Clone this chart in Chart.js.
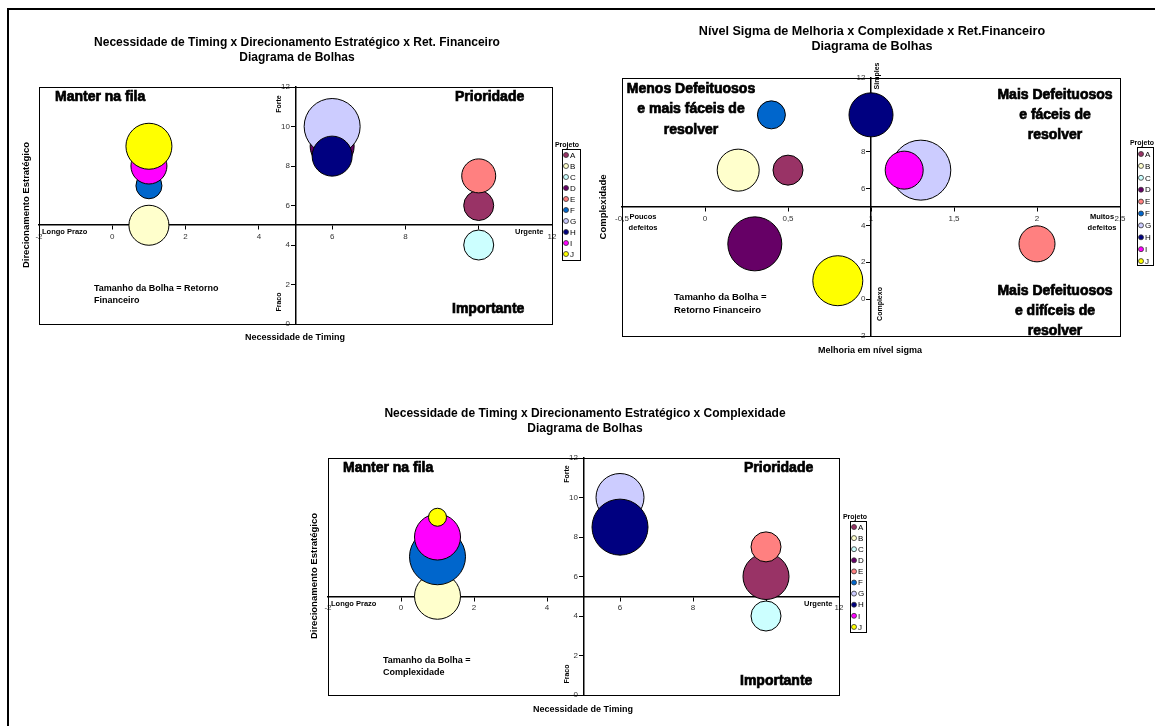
<!DOCTYPE html>
<html>
<head>
<meta charset="utf-8">
<script src="https://cdn.jsdelivr.net/npm/chart.js@4.4.1/dist/chart.umd.min.js"></script>
<style>
  body { margin: 0; background: #fff; }
  #page { position: relative; width: 1155px; height: 726px; overflow: hidden; font-family: "Liberation Sans", Arial, sans-serif; }
  #page canvas { position: absolute; left: 0; top: 0; }
  .linha-topo { position: absolute; left: 7px; top: 8px; width: 1148px; height: 2px; background: #000; }
  .linha-esq { position: absolute; left: 7px; top: 8px; width: 2px; height: 718px; background: #000; }
</style>
</head>
<body>
<div id="page">
  <div class="linha-topo"></div>
  <div class="linha-esq"></div>
  <canvas id="graf1" width="1155" height="726"></canvas>
  <canvas id="graf2" width="1155" height="726"></canvas>
  <canvas id="graf3" width="1155" height="726"></canvas>
</div>
<script>
const projetos = ['A', 'B', 'C', 'D', 'E', 'F', 'G', 'H', 'I', 'J'];
const cores = ['#993366', '#FFFFCC', '#CCFFFF', '#660066', '#FF8080', '#0066CC', '#CCCCFF', '#000080', '#FF00FF', '#FFFF00'];

// necessidade de timing (x) e direcionamento estrategico (y) - graficos 1 e 3
const timing = [10, 1, 10, 6, 10, 1, 6, 6, 1, 1];
const direcionamento = [6, 5, 4, 9, 7.5, 7, 10, 8.5, 8, 9];
// tamanho da bolha = retorno financeiro (grafico 1)
const retorno1 = [15, 20, 15, 22, 17, 13, 28, 20, 18, 23];

// nivel sigma (x) x complexidade (y) - grafico 2 (C sem valor)
const sigma = [0.5, 0.2, null, 0.3, 2, 0.4, 1.3, 1, 1.2, 0.8];
const complexidade = [7, 7, null, 3, 3, 10, 7, 10, 7, 1];
const retorno2 = [15, 21, null, 27, 18, 14, 30, 22, 19, 25];

// tamanho da bolha = complexidade (grafico 3)
const complexidade3 = [23, 23, 15, 20, 15, 28, 24, 28, 23, 9];

const ticksTiming = ['-2', '0', '2', '4', '6', '8', '10', '12'];
const ticksDirec = ['0', '2', '4', '6', '8', '10', '12'];
const ticksSigma = ['-0,5', '0', '0,5', '1', '1,5', '2', '2,5'];
const ticksComplex = ['-2', '0', '2', '4', '6', '8', '10', '12'];

const FONTE = '"Liberation Sans", Arial, sans-serif';

function montaDatasets(xs, ys, rs) {
    return projetos.map((p, i) => ({
        label: p,
        data: xs[i] === null ? [] : [{ x: xs[i], y: ys[i], r: rs[i] }],
        backgroundColor: cores[i],
        borderColor: '#000',
        borderWidth: 1,
        order: projetos.length - i   // A desenhado primeiro, J por cima
    }));
}

const extras = {
    id: 'extras',
    beforeDatasetsDraw(chart) {
        const { ctx, chartArea: a } = chart;
        ctx.save();
        ctx.strokeStyle = '#000';
        ctx.lineWidth = 1;
        ctx.strokeRect(a.left + 0.5, a.top + 0.5, a.width, a.height);
        ctx.restore();
    },
    afterDraw(chart, args, opts) {
        const ctx = chart.ctx;
        ctx.save();
        ctx.fillStyle = '#000';
        ctx.strokeStyle = '#000';
        ctx.textBaseline = 'middle';
        opts.textos.forEach(t => {
            ctx.save();
            ctx.font = t.font + ' ' + FONTE;
            ctx.textAlign = t.align || 'center';
            ctx.translate(t.x, t.y);
            if (t.rot) ctx.rotate(-Math.PI / 2);
            t.text.split('\n').forEach((l, i) => {
                ctx.fillText(l, 0, i * (t.lh || 12));
                if (t.forte) {
                    ctx.lineWidth = 0.7;
                    ctx.strokeText(l, 0, i * (t.lh || 12));
                }
            });
            ctx.restore();
        });

        // legenda "Projeto"
        const L = opts.legenda;
        ctx.font = 'bold 7px ' + FONTE;
        ctx.textAlign = 'center';
        ctx.fillText('Projeto', L.tx, L.y - 4);
        ctx.lineWidth = 1;
        ctx.strokeRect(L.x + 0.5, L.y + 0.5, L.w, L.h);
        ctx.font = '8px ' + FONTE;
        ctx.textAlign = 'left';
        chart.data.datasets.forEach((ds, i) => {
            const yy = L.first + i * L.step;
            ctx.beginPath();
            ctx.arc(L.x + 4, yy, 2.5, 0, Math.PI * 2);
            ctx.fillStyle = ds.backgroundColor;
            ctx.fill();
            ctx.strokeStyle = '#333';
            ctx.lineWidth = 0.8;
            ctx.stroke();
            ctx.fillStyle = '#000';
            ctx.fillText(ds.label, L.x + 8, yy + 0.5);
        });
        ctx.restore();
    }
};

function eixo(min, max, step, cruza, labels, vertical, extra) {
    return Object.assign({
        type: 'linear',
        min: min,
        max: max,
        position: cruza,
        ticks: {
            stepSize: step,
            color: '#333',
            font: { size: 8, family: FONTE },
            // eixo vertical cruzado: rotulo encostado na linha, afasta com espaco
            callback: (v, i) => vertical ? labels[i] + '\u2002\u2009' : labels[i]
        },
        grid: { drawOnChartArea: false, drawTicks: true, tickLength: 4, color: '#000' },
        border: { color: '#000', width: 1.5 }
    }, extra || {});
}

function criaGrafico(id, datasets, area, escalas, textos, legenda) {
    new Chart(document.getElementById(id), {
        type: 'bubble',
        data: { datasets: datasets },
        options: {
            responsive: false,
            animation: false,
            events: [],
            layout: {
                padding: { left: area.left, top: area.top, right: 1155 - area.right, bottom: 726 - area.bottom }
            },
            scales: escalas,
            plugins: {
                legend: { display: false },
                tooltip: { enabled: false },
                extras: { textos: textos, legenda: legenda }
            }
        },
        plugins: [extras]
    });
}

// Grafico 1
criaGrafico('graf1', montaDatasets(timing, direcionamento, retorno1),
    { left: 39, top: 87, right: 552, bottom: 324 },
    {
        x: eixo(-2, 12, 2, { y: 5 }, ticksTiming, false),
        y: eixo(0, 12, 2, { x: 5 }, ticksDirec, true)
    },
    [
        { text: 'Necessidade de Timing x Direcionamento Estratégico x Ret. Financeiro\nDiagrama de Bolhas', x: 297, y: 43, font: 'bold 12px', lh: 15 },
        { text: 'Manter na fila', x: 55, y: 97, font: 'bold 14px', align: 'left', forte: true },
        { text: 'Prioridade', x: 455, y: 97, font: 'bold 14px', align: 'left', forte: true },
        { text: 'Importante', x: 452, y: 309, font: 'bold 14px', align: 'left', forte: true },
        { text: 'Tamanho da Bolha = Retorno\nFinanceiro', x: 94, y: 289, font: 'bold 9px', align: 'left', lh: 11.5 },
        { text: 'Longo Prazo', x: 42, y: 232, font: 'bold 7.5px', align: 'left' },
        { text: 'Urgente', x: 515, y: 232, font: 'bold 7.5px', align: 'left' },
        { text: 'Forte', x: 279, y: 104, font: 'bold 7px', rot: true },
        { text: 'Fraco', x: 279, y: 302, font: 'bold 7px', rot: true },
        { text: 'Direcionamento Estratégico', x: 26, y: 205, font: 'bold 9.5px', rot: true },
        { text: 'Necessidade de Timing', x: 295, y: 338, font: 'bold 9px' }
    ],
    { x: 562, y: 149, w: 18, h: 111, tx: 567, first: 155, step: 11 }
);

// Grafico 2
criaGrafico('graf2', montaDatasets(sigma, complexidade, retorno2),
    { left: 622, top: 78, right: 1120, bottom: 336 },
    {
        x: eixo(-0.5, 2.5, 0.5, { y: 5 }, ticksSigma, false),
        y: eixo(-2, 12, 2, { x: 1 }, ticksComplex, true, { z: 1 })
    },
    [
        { text: 'Nível Sigma de Melhoria x Complexidade x Ret.Financeiro\nDiagrama de Bolhas', x: 872, y: 32, font: 'bold 12.6px', lh: 15 },
        { text: 'Menos Defeituosos\ne mais fáceis de\nresolver', x: 691, y: 89, font: 'bold 14px', lh: 20.5, forte: true },
        { text: 'Mais Defeituosos\ne fáceis de\nresolver', x: 1055, y: 95, font: 'bold 14px', lh: 20, forte: true },
        { text: 'Mais Defeituosos\ne difíceis de\nresolver', x: 1055, y: 291, font: 'bold 14px', lh: 20, forte: true },
        { text: 'Tamanho da Bolha =\nRetorno Financeiro', x: 674, y: 297, font: 'bold 9.5px', align: 'left', lh: 13 },
        { text: 'Poucos\ndefeitos', x: 643, y: 217, font: 'bold 7.5px', lh: 10.5 },
        { text: 'Muitos\ndefeitos', x: 1102, y: 217, font: 'bold 7.5px', lh: 10.5 },
        { text: 'Simples', x: 877, y: 76, font: 'bold 7px', rot: true },
        { text: 'Complexo', x: 880, y: 304, font: 'bold 7px', rot: true },
        { text: 'Complexidade', x: 603, y: 207, font: 'bold 9.5px', rot: true },
        { text: 'Melhoria em nível sigma', x: 870, y: 351, font: 'bold 9px' }
    ],
    { x: 1137, y: 147, w: 16, h: 118, tx: 1142, first: 154, step: 11.9 }
);

// Grafico 3
criaGrafico('graf3', montaDatasets(timing, direcionamento, complexidade3),
    { left: 328, top: 458, right: 839, bottom: 695 },
    {
        x: eixo(-2, 12, 2, { y: 5 }, ticksTiming, false),
        y: eixo(0, 12, 2, { x: 5 }, ticksDirec, true)
    },
    [
        { text: 'Necessidade de Timing x Direcionamento Estratégico x Complexidade\nDiagrama de Bolhas', x: 585, y: 414, font: 'bold 12px', lh: 15 },
        { text: 'Manter na fila', x: 343, y: 468, font: 'bold 14px', align: 'left', forte: true },
        { text: 'Prioridade', x: 744, y: 468, font: 'bold 14px', align: 'left', forte: true },
        { text: 'Importante', x: 740, y: 681, font: 'bold 14px', align: 'left', forte: true },
        { text: 'Tamanho da Bolha =\nComplexidade', x: 383, y: 661, font: 'bold 9px', align: 'left', lh: 11.5 },
        { text: 'Longo Prazo', x: 331, y: 604, font: 'bold 7.5px', align: 'left' },
        { text: 'Urgente', x: 804, y: 604, font: 'bold 7.5px', align: 'left' },
        { text: 'Forte', x: 567, y: 474, font: 'bold 7px', rot: true },
        { text: 'Fraco', x: 567, y: 674, font: 'bold 7px', rot: true },
        { text: 'Direcionamento Estratégico', x: 314, y: 576, font: 'bold 9.5px', rot: true },
        { text: 'Necessidade de Timing', x: 583, y: 710, font: 'bold 9px' }
    ],
    { x: 850, y: 521, w: 16, h: 111, tx: 855, first: 527, step: 11.1 }
);
</script>
</body>
</html>
